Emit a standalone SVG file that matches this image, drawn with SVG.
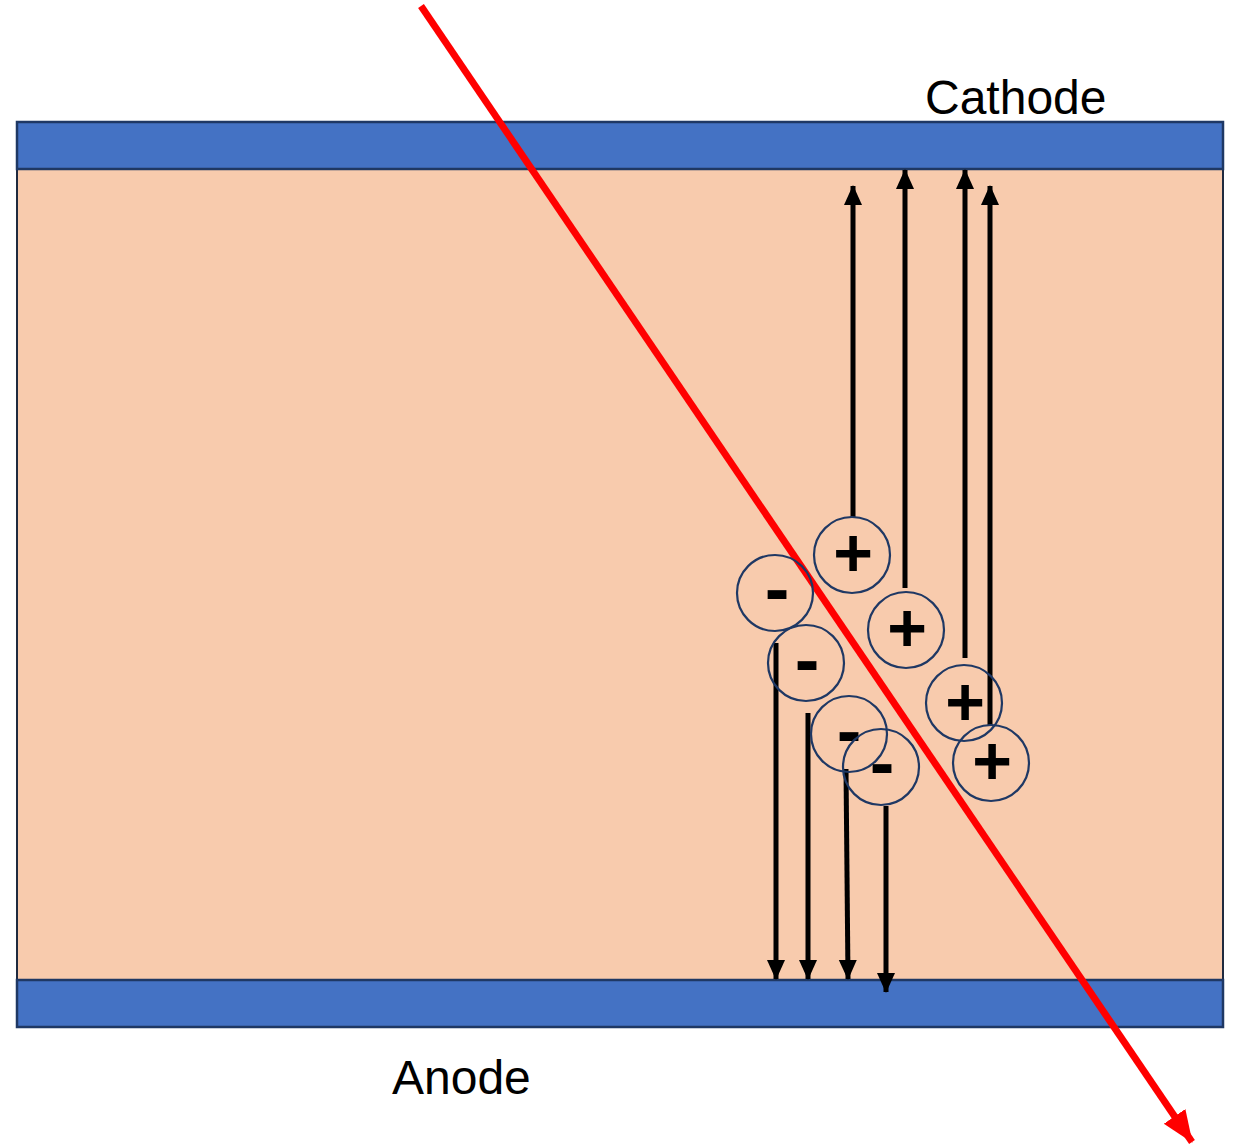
<svg xmlns="http://www.w3.org/2000/svg" width="1236" height="1144" viewBox="0 0 1236 1144">
<style>
.band{fill:#4472C4;stroke:#1F3864;stroke-width:2.5}
.gap{fill:#F8CBAD;stroke:#1F2A3F;stroke-width:2}
.ion{fill:none;stroke:#1F3864;stroke-width:2.2}
.sign{font-family:"Liberation Sans",Arial,sans-serif;font-weight:bold;fill:#000;text-anchor:middle}
.plus{font-size:68px}
.minus{font-size:74px}
.lbl{font-family:"Liberation Sans",Arial,sans-serif;font-size:48px;fill:#000}
.path{stroke:#000;stroke-width:5;fill:none}
</style>
<defs>
<marker id="ah" markerUnits="userSpaceOnUse" markerWidth="20" markerHeight="20" refX="19" refY="9" orient="auto">
<path d="M0,0 L20,9 L0,18 Z" fill="#000"/>
</marker>
<marker id="rh" markerUnits="userSpaceOnUse" markerWidth="32" markerHeight="28" refX="31" refY="13" orient="auto">
<path d="M0,0 L32,13 L0,26 Z" fill="#FF0000"/>
</marker>
</defs>
<g id="gas-gap"><rect class="gap" x="17" y="169" width="1206" height="811"/></g>
<g id="cathode"><rect class="band" x="17" y="122" width="1206" height="47"/><text class="lbl" x="925" y="114">Cathode</text></g>
<g id="anode"><rect class="band" x="17" y="980" width="1206" height="47"/><text class="lbl" x="392" y="1094">Anode</text></g>
<g id="connectors">
<line class="path" x1="853" y1="517" x2="853" y2="186" marker-end="url(#ah)"/>
<line class="path" x1="905" y1="588" x2="905" y2="170" marker-end="url(#ah)"/>
<line class="path" x1="965" y1="658" x2="965" y2="170" marker-end="url(#ah)"/>
<line class="path" x1="990" y1="725" x2="990" y2="186" marker-end="url(#ah)"/>
<line class="path" x1="776" y1="643" x2="776" y2="979" marker-end="url(#ah)"/>
<line class="path" x1="808" y1="713" x2="808" y2="979" marker-end="url(#ah)"/>
<line class="path" x1="846" y1="769" x2="848" y2="979" marker-end="url(#ah)"/>
<line class="path" x1="886" y1="806" x2="886" y2="992" marker-end="url(#ah)"/>
<line x1="421" y1="6" x2="1192" y2="1142" stroke="#FF0000" stroke-width="7" marker-end="url(#rh)"/>
</g>
<g id="ion-p1"><circle class="ion" cx="852" cy="555" r="38"/><text class="sign plus" x="853" y="576">+</text></g>
<g id="ion-p2"><circle class="ion" cx="906" cy="630" r="38"/><text class="sign plus" x="907" y="651">+</text></g>
<g id="ion-p3"><circle class="ion" cx="964" cy="703" r="38"/><text class="sign plus" x="965" y="725">+</text></g>
<g id="ion-p4"><circle class="ion" cx="991" cy="763" r="38"/><text class="sign plus" x="992" y="784">+</text></g>
<g id="ion-n1"><circle class="ion" cx="775" cy="593" r="38"/><text class="sign minus" x="777" y="614">-</text></g>
<g id="ion-n2"><circle class="ion" cx="806" cy="663" r="38"/><text class="sign minus" x="807" y="685">-</text></g>
<g id="ion-n3"><circle class="ion" cx="849" cy="734" r="38"/><text class="sign minus" x="849" y="756">-</text></g>
<g id="ion-n4"><circle class="ion" cx="881" cy="767" r="38"/><text class="sign minus" x="882" y="788">-</text></g>
</svg>
